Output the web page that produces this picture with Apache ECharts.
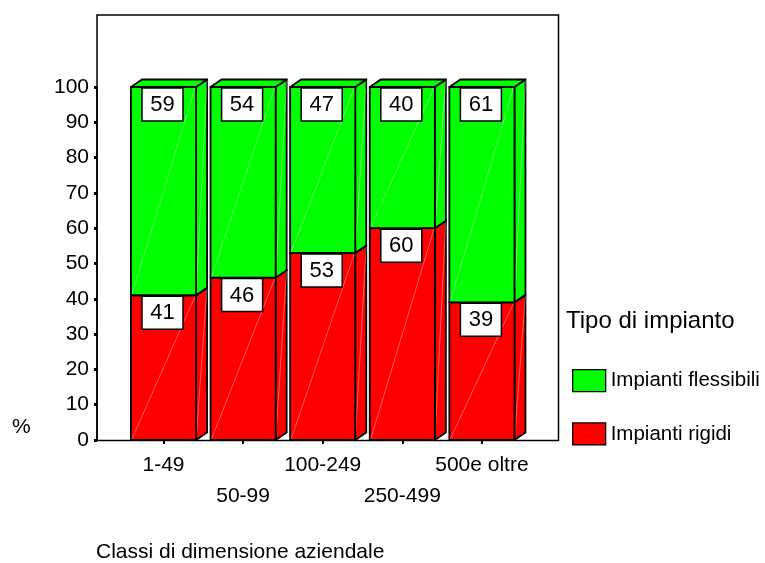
<!DOCTYPE html>
<html>
<head>
<meta charset="utf-8">
<script src="https://cdn.jsdelivr.net/npm/echarts@6/dist/echarts.min.js"></script>
<style>
  html, body { margin: 0; padding: 0; background: #fff; }
  #chart { width: 765px; height: 563px; }
</style>
</head>
<body>
<div id="chart"></div>
<script>
// Company size classes and share (%) of each plant type
const categories = ['1-49', '50-99', '100-249', '250-499', '500e oltre'];
const rigidi = [41, 46, 53, 60, 39];
const flessibili = [59, 54, 47, 40, 61];
const seriesNames = ['Impianti flessibili', 'Impianti rigidi'];

const FONT = '"Liberation Sans", Arial, sans-serif';
const GREEN = '#00ff00';
const RED = '#ff0000';
const DEPTH_X = 11;
const DEPTH_Y = -7.5;
const BAR_RATIO = 0.818;

// Stacked segments: [categoryIndex, bottom, top, value]
const rigidiData = rigidi.map((v, i) => [i, 0, v, v]);
const flessibiliData = flessibili.map((v, i) => [i, rigidi[i], rigidi[i] + v, v]);

function makeRender(fill) {
  return function (params, api) {
    const idx = api.value(0);
    const lo = api.value(1);
    const hi = api.value(2);
    const val = api.value(3);
    const band = api.size([1, 0])[0];
    const w = band * BAR_RATIO;
    const pBot = api.coord([idx, lo]);
    const pTop = api.coord([idx, hi]);
    const cx = pBot[0];
    const x0 = cx - w / 2, x1 = cx + w / 2;
    const yb = pBot[1], yt = pTop[1];
    const dx = DEPTH_X, dy = DEPTH_Y;
    const edge = { fill: fill, stroke: '#000', lineWidth: 1.8, lineJoin: 'round' };
    const streak = { stroke: 'rgba(255,255,255,0.45)', lineWidth: 0.8, fill: null };
    const children = [
      // side face
      { type: 'polygon', shape: { points: [[x1, yb], [x1 + dx, yb + dy], [x1 + dx, yt + dy], [x1, yt]] }, style: edge },
      { type: 'line', shape: { x1: x1, y1: yb, x2: x1 + dx, y2: yt + dy }, style: streak },
      // top face
      { type: 'polygon', shape: { points: [[x0, yt], [x0 + dx, yt + dy], [x1 + dx, yt + dy], [x1, yt]] }, style: edge },
      // front face
      { type: 'rect', shape: { x: x0, y: yt, width: w, height: yb - yt }, style: edge },
      { type: 'line', shape: { x1: x0 + 1, y1: yb - 1, x2: x1 - 1, y2: yt + 1 }, style: streak },
      // value box
      { type: 'rect', shape: { x: cx - 21.5, y: yt + 1, width: 41, height: 33 },
        style: { fill: '#fff', stroke: '#000', lineWidth: 1.5 } },
      { type: 'text', x: cx - 1, y: yt + 18,
        style: { text: String(val), fill: '#000', font: '22px ' + FONT, align: 'center', verticalAlign: 'middle' } }
    ];
    return { type: 'group', children: children };
  };
}

const chart = echarts.init(document.getElementById('chart'), null, { renderer: 'canvas' });

chart.setOption({
  backgroundColor: '#fff',
  animation: false,
  grid: { left: 123.7, right: 243.3, top: 87, bottom: 123, containLabel: false },
  xAxis: {
    type: 'category',
    data: categories,
    axisLine: { show: false },
    axisTick: { show: true, alignWithLabel: true, length: 4, lineStyle: { color: '#000', width: 2 } },
    axisLabel: {
      color: '#000', fontFamily: FONT, fontSize: 21, margin: 9, lineHeight: 31.5,
      interval: 0,
      formatter: (v, i) => (i % 2 === 1 ? '\n' + v : v)
    }
  },
  yAxis: {
    type: 'value',
    min: 0, max: 100, interval: 10,
    offset: 26.7,
    axisLine: { show: true, lineStyle: { color: '#000', width: 1.5 } },
    axisTick: { show: true, length: 3, lineStyle: { color: '#000', width: 3 } },
    axisLabel: { color: '#000', fontFamily: FONT, fontSize: 21, margin: 8 },
    splitLine: { show: false }
  },
  legend: {
    orient: 'vertical',
    left: 572, top: 369,
    padding: 0,
    itemWidth: 33, itemHeight: 22, itemGap: 30,
    textStyle: { color: '#000', fontFamily: FONT, fontSize: 20.5 },
    data: [
      { name: seriesNames[0], icon: 'rect', itemStyle: { color: GREEN, borderColor: '#000', borderWidth: 1.3 } },
      { name: seriesNames[1], icon: 'rect', itemStyle: { color: RED, borderColor: '#000', borderWidth: 1.3 } }
    ]
  },
  graphic: [
    { type: 'rect', z: 0, shape: { x: 97, y: 15, width: 461.5, height: 425.5 },
      style: { fill: null, stroke: '#000', lineWidth: 1.5 } },
    { type: 'text', left: 566, top: 309,
      style: { text: 'Tipo di impianto', fill: '#000', font: '24px ' + FONT } },
    { type: 'text', left: 12, top: 417,
      style: { text: '%', fill: '#000', font: '21px ' + FONT } },
    { type: 'text', left: 96, top: 542,
      style: { text: 'Classi di dimensione aziendale', fill: '#000', font: '21px ' + FONT } }
  ],
  series: [
    {
      name: seriesNames[1], type: 'custom',
      itemStyle: { color: RED, borderColor: '#000', borderWidth: 1 },
      renderItem: makeRender(RED),
      encode: { x: 0, y: [1, 2] },
      data: rigidiData,
      z: 2
    },
    {
      name: seriesNames[0], type: 'custom',
      itemStyle: { color: GREEN, borderColor: '#000', borderWidth: 1 },
      renderItem: makeRender(GREEN),
      encode: { x: 0, y: [1, 2] },
      data: flessibiliData,
      z: 3
    }
  ]
});
</script>
</body>
</html>
